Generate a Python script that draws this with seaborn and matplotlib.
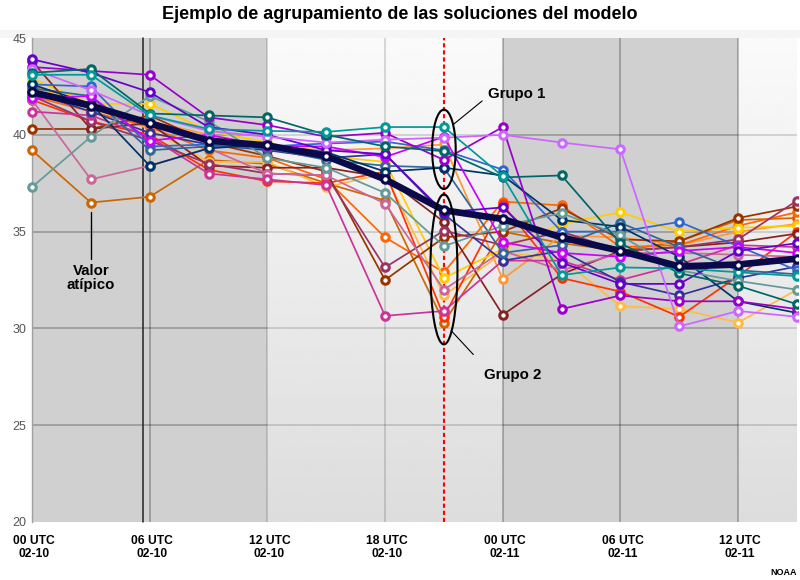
"""Spaghetti plot of model ensemble members with clustering callouts."""
import matplotlib
matplotlib.use("Agg")
import matplotlib.pyplot as plt
import numpy as np
import seaborn as sns
from matplotlib.patches import Ellipse, Rectangle
from matplotlib.transforms import Bbox, ScaledTranslation

hours = [0, 3, 6, 9, 12, 15, 18, 21, 24, 27, 30, 33, 36, 39]
tick_hours = [0, 6, 12, 18, 24, 30, 36]
tick_labels = ["00 UTC\n02-10", "06 UTC\n02-10", "12 UTC\n02-10", "18 UTC\n02-10",
               "00 UTC\n02-11", "06 UTC\n02-11", "12 UTC\n02-11"]
y_ticks = [20, 25, 30, 35, 40, 45]

# members
amber = [39.2, 36.5, 36.8, 38.7, 38.5, 37.5, 36.6, 30.3, 35.0, 34.4, 34.0, 34.5, 35.6, 35.7]
tangerine = [42.5, 41.5, 40.7, 40.0, 39.4, 39.2, 39.3, 39.5, 32.55, 34.8, 34.7, 34.3, 35.0, 35.4]
lightorange = [42.6, 41.4, 40.3, 38.6, 38.6, 37.3, 38.0, 31.7, 33.9, 33.6, 31.15, 31.0, 30.3, 32.0]
orange = [42.0, 41.2, 40.4, 39.2, 38.8, 37.7, 34.7, 32.9, 36.55, 36.35, 34.2, 34.3, 35.3, 36.0]
yellow = [42.9, 41.6, 41.6, 40.2, 39.6, 38.9, 38.6, 32.6, 34.1, 35.4, 36.0, 35.0, 35.2, 35.3]
red = [41.8, 40.7, 40.0, 38.2, 37.6, 37.5, 38.1, 30.6, 36.4, 32.6, 31.9, 30.6, 32.7, 35.0]
brown = [40.3, 40.3, 41.0, 39.6, 38.9, 38.1, 32.5, 34.7, 35.0, 36.2, 34.6, 34.5, 35.7, 36.3]
darkred = [43.8, 40.3, 40.6, 38.4, 38.3, 38.3, 37.8, 35.5, 30.7, 32.8, 34.0, 34.2, 34.45, 34.9]
maroon = [42.0, 40.7, 39.7, 38.5, 38.0, 37.9, 33.15, 35.05, 34.3, 35.0, 34.0, 34.2, 34.6, 36.6]
pink = [41.8, 37.7, 38.4, 39.3, 38.0, 37.9, 36.45, 32.0, 34.0, 33.0, 33.9, 33.9, 33.8, 33.7]
pinkmag = [41.2, 41.0, 39.9, 38.0, 37.7, 37.4, 30.65, 30.9, 33.5, 33.5, 32.5, 33.3, 34.3, 34.2]
darkblue = [42.2, 41.2, 40.1, 39.5, 39.2, 38.8, 39.0, 35.9, 33.5, 34.0, 32.4, 31.7, 32.6, 33.2]
blue = [42.6, 42.5, 39.4, 39.5, 39.4, 39.55, 39.65, 39.2, 38.2, 35.0, 35.0, 35.5, 34.25, 33.0]
steel = [42.4, 42.0, 39.2, 39.4, 39.3, 38.7, 38.4, 38.3, 33.9, 34.3, 35.45, 34.2, 33.0, 32.8]
navy = [42.6, 41.6, 38.4, 39.3, 39.5, 39.1, 38.1, 38.3, 37.9, 35.6, 35.25, 33.7, 31.4, 30.8]
grayteal = [37.3, 39.9, 42.0, 40.7, 38.8, 38.3, 37.0, 34.25, 35.3, 35.95, 34.8, 33.0, 32.45, 32.0]
magenta = [41.9, 42.0, 39.7, 40.0, 39.4, 39.4, 38.85, 39.9, 34.45, 33.9, 33.7, 34.0, 34.2, 33.9]
purple = [43.5, 43.3, 43.1, 40.9, 40.5, 39.9, 40.1, 38.7, 40.4, 31.0, 31.7, 31.4, 31.4, 31.0]
violet = [43.9, 43.2, 42.2, 40.4, 40.0, 39.2, 39.0, 36.0, 36.25, 33.4, 32.3, 32.3, 34.0, 34.4]
lilac = [43.4, 42.3, 41.0, 40.2, 39.9, 39.6, 39.75, 39.85, 40.0, 39.6, 39.25, 30.1, 30.9, 30.6]
darkteal = [43.2, 43.4, 41.1, 41.0, 40.9, 40.0, 39.4, 39.15, 37.8, 37.9, 34.4, 32.85, 32.2, 31.25]
teal = [43.1, 43.1, 41.0, 40.3, 40.2, 40.15, 40.4, 40.4, 37.85, 32.75, 33.15, 33.1, 32.9, 32.7]
ens_mean = [42.2, 41.5, 40.6, 39.7, 39.45, 38.9, 37.7, 36.1, 35.65, 34.7, 34.0, 33.2, 33.3, 33.6]

members = [amber, tangerine, lightorange, orange, yellow, red, brown, darkred, maroon,
           pink, pinkmag, darkblue, blue, steel, navy, grayteal, magenta, purple,
           violet, lilac, darkteal, teal]
colors = ["#cc6600", "#ff9933", "#ffbb44", "#ff6600", "#ffcc00", "#ff3300", "#993300",
          "#882222", "#993366", "#cc6699", "#cc3399", "#333399", "#3366cc", "#336699",
          "#003366", "#669999", "#cc00ff", "#9900cc", "#6600cc", "#cc66ff", "#006666",
          "#009999"]

sns.set_style("white")
plt.rcParams["font.family"] = ["Liberation Sans", "DejaVu Sans"]

fig = plt.figure(figsize=(8, 5.8), dpi=100)
fig.add_artist(Rectangle((0, 542 / 580), 1, 8 / 580, transform=fig.transFigure, color="#f5f5f5",
                         lw=0, zorder=-1))
ax = fig.add_axes([32 / 800, 58 / 580, 765 / 800, 484 / 580])
ax.patch.set_alpha(0)

# light panel with a soft top-to-bottom fade, darker bands on top of it
fade = np.linspace(0.865, 0.98, 200).reshape(-1, 1)
ax.imshow(fade, extent=(0, 39, 20, 45), aspect="auto", cmap="gray", vmin=0, vmax=1,
          origin="lower", zorder=0)
ax.axvspan(0, 12, color="#d0d0d0", lw=0, zorder=0.5)
ax.axvspan(24, 36, color="#d0d0d0", lw=0, zorder=0.5)

# grid reads darker across the grey bands
ax.hlines([25, 30, 35, 40], 0, 39, color="black", alpha=0.14, lw=1.4, zorder=1)
ax.hlines([25, 30, 35, 40], 0, 12, color="black", alpha=0.1, lw=1.4, zorder=1)
ax.hlines([25, 30, 35, 40], 24, 36, color="black", alpha=0.1, lw=1.4, zorder=1)
ax.vlines([12, 18], 20, 45, color="black", alpha=0.14, lw=1.4, zorder=1)
ax.vlines([6, 24, 30, 36], 20, 45, color="black", alpha=0.24, lw=1.4, zorder=1)
ax.axvline(5.65, color="#222222", lw=1.1, zorder=1)
ax.axvline(21, color="#ff0000", lw=1.5, ls=(0, (2, 1.4)), zorder=1.5)

for vals, c in zip(members, colors):
    sns.lineplot(x=hours, y=vals, color=c, marker="o", markersize=5.4, markerfacecolor="white",
                 markeredgecolor=c, markeredgewidth=2.2, lw=1.25, estimator=None, ax=ax, zorder=3)
sns.lineplot(x=hours, y=ens_mean, color="#0a0a4a", marker="o", markersize=5.4,
             markerfacecolor="white", markeredgecolor="#0a0a4a", markeredgewidth=2.2, lw=4.8,
             estimator=None, ax=ax, zorder=4)

# left markers hang over the axes edge, right ones get cut at the frame
for line in ax.lines:
    line.set_clip_box(Bbox([[0, 0], [798, 580]]))

for center, h, w in [(39.25, 4.1, 1.2), (33.05, 7.75, 1.38)]:
    ax.add_patch(Ellipse((21, center), w, h, fill=False, ec="black", lw=1.5, zorder=5))

ax.plot([21.5, 22.95], [40.55, 41.75], color="black", lw=0.8, zorder=5)
ax.plot([21.4, 22.5], [29.85, 28.65], color="black", lw=0.8, zorder=5)
ax.plot([3, 3], [36.0, 33.6], color="black", lw=1.0, zorder=5)

ax.text(23.25, 42.1, "Grupo 1", fontsize=10.8, fontweight="bold", color="black", va="center")
ax.text(23.05, 27.6, "Grupo 2", fontsize=10.8, fontweight="bold", color="black", va="center")
ax.text(3, 32.6, "Valor\natípico", fontsize=10.8, fontweight="bold", color="black", ha="center",
        va="center", linespacing=1.0)

ax.set_xlim(0, 39)
ax.set_ylim(20, 45)
ax.set_xlabel("")
ax.set_ylabel("")
ax.set_xticks(tick_hours, tick_labels, fontsize=8.7, fontweight="bold", color="black", linespacing=1.2)
ax.set_yticks(y_ticks, [str(v) for v in y_ticks], fontsize=9, color="#555555")
ax.tick_params(axis="x", length=0, pad=9)
ax.tick_params(axis="y", length=0, pad=4)
shift = ScaledTranslation(2 / 100, 0, fig.dpi_scale_trans)
for lab in ax.get_xticklabels():
    lab.set_transform(lab.get_transform() + shift)
sns.despine(ax=ax, top=True, right=True, bottom=True, left=False)
ax.spines["left"].set_color("#a0a0a0")
ax.spines["left"].set_linewidth(1.0)

fig.text(0.5, 0.975, "Ejemplo de agrupamiento de las soluciones del modelo", fontsize=12.95,
         fontweight="bold", color="black", ha="center", va="center")
fig.text(0.996, 0.0135, "NOAA", fontsize=6.5, fontweight="bold", color="black", ha="right", va="center")

fig.savefig("out.png", dpi=100)
